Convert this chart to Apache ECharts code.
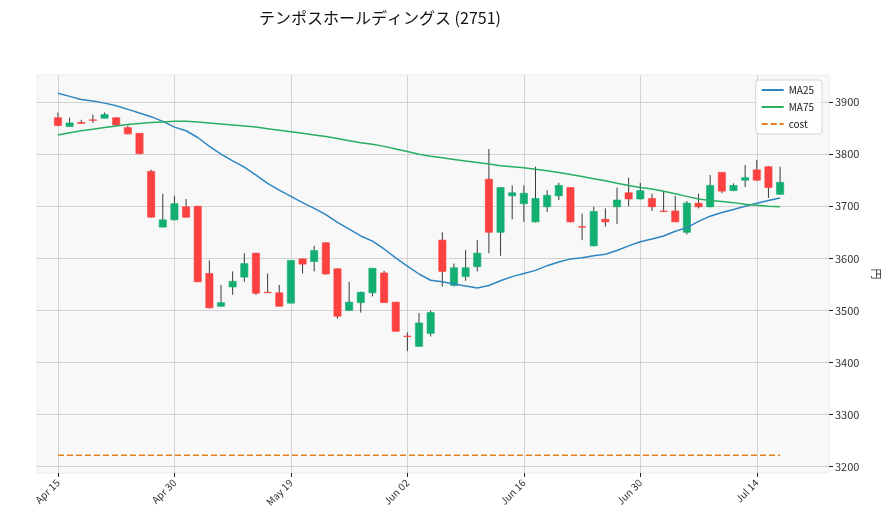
<!DOCTYPE html>
<html>
<head>
<meta charset="utf-8">
<script src="https://cdn.jsdelivr.net/npm/echarts@6/dist/echarts.min.js"></script>
<style>html,body{margin:0;padding:0;background:#fff}#chart{width:890px;height:526px}</style>
</head>
<body>
<div id="chart"></div>
<script>
const titleText = 'テンポスホールディングス (2751)';
const tickIndex = [0, 10, 20, 30, 40, 50, 60];
const tickLabels = ['Apr 15', 'Apr 30', 'May 19', 'Jun 02', 'Jun 16', 'Jun 30', 'Jul 14'];
const yTicks = [3200, 3300, 3400, 3500, 3600, 3700, 3800, 3900];

const openV  = [3870,3853,3861,3866,3869,3870,3851,3840,3767,3660,3674,3699,3700,3571,3508,3545,3564,3610,3535,3534,3514,3599,3594,3630,3580,3500,3515,3534,3572,3516,3451,3431,3456,3635,3548,3565,3584,3752,3650,3720,3705,3670,3699,3720,3736,3661,3624,3675,3699,3726,3714,3715,3691,3691,3650,3706,3699,3765,3730,3750,3770,3776,3723];
const closeV = [3855,3860,3859,3865,3876,3856,3839,3801,3679,3674,3705,3679,3555,3505,3515,3556,3590,3533,3534,3508,3596,3589,3615,3570,3489,3516,3535,3581,3515,3460,3450,3476,3496,3575,3582,3582,3610,3650,3736,3726,3725,3715,3721,3740,3670,3660,3690,3670,3712,3714,3730,3699,3690,3670,3706,3699,3740,3729,3740,3755,3750,3736,3746];
const lowV   = [3854,3853,3859,3860,3869,3855,3838,3800,3678,3660,3673,3678,3555,3504,3507,3530,3555,3530,3534,3508,3514,3571,3575,3569,3484,3500,3496,3527,3515,3459,3422,3431,3450,3546,3546,3557,3575,3610,3605,3675,3670,3669,3689,3712,3669,3635,3623,3661,3666,3700,3713,3691,3689,3670,3646,3696,3698,3725,3729,3737,3749,3716,3722];
const highV  = [3880,3870,3866,3876,3880,3871,3855,3840,3770,3724,3720,3714,3701,3596,3549,3575,3610,3610,3571,3549,3596,3600,3624,3631,3581,3555,3536,3581,3576,3516,3458,3495,3500,3650,3590,3616,3635,3810,3737,3740,3740,3776,3731,3745,3737,3686,3699,3696,3736,3755,3745,3724,3729,3720,3710,3724,3760,3765,3744,3779,3789,3777,3776];
const ma25 = [3917,3911,3905,3902,3898,3893,3886,3879,3872,3863,3852,3845,3832,3815,3800,3787,3775,3760,3744,3731,3719,3707,3696,3684,3669,3656,3643,3633,3618,3601,3585,3570,3558,3555,3551,3547,3543,3548,3557,3565,3571,3577,3586,3593,3599,3601,3605,3608,3615,3624,3632,3637,3643,3652,3659,3671,3681,3688,3694,3700,3706,3711,3716];
const ma75 = [3837,3841,3845,3848,3851,3854,3857,3859,3861,3862,3863,3863,3862,3860,3858,3856,3854,3852,3849,3846,3843,3840,3837,3834,3830,3826,3822,3819,3815,3810,3805,3800,3796,3793,3790,3787,3784,3781,3778,3776,3774,3771,3768,3765,3761,3757,3753,3749,3744,3740,3736,3733,3729,3724,3719,3714,3711,3709,3707,3704,3702,3700,3699];
const costValue = 3222;

const upColor = '#13ae72';
const downColor = '#fd4040';
const FONT = '"Noto Sans CJK JP", "Noto Sans", sans-serif';

const ohlc = openV.map((o, i) => [i, o, closeV[i], lowV[i], highV[i]]);
const ma25Data = ma25.map((v, i) => [i, v]);
const ma75Data = ma75.map((v, i) => [i, v]);
const costData = [[0, costValue], [openV.length - 1, costValue]];

function renderCandle(params, api) {
  const x = api.value(0), o = api.value(1), c = api.value(2), l = api.value(3), h = api.value(4);
  const pH = api.coord([x, h]);
  const pL = api.coord([x, l]);
  const pO = api.coord([x, o]);
  const pC = api.coord([x, c]);
  const w = api.size([0.62, 0])[0];
  const color = c >= o ? upColor : downColor;
  const top = Math.min(pO[1], pC[1]);
  const hgt = Math.max(Math.abs(pO[1] - pC[1]), 0.6);
  return {
    type: 'group',
    children: [
      { type: 'line', shape: { x1: pH[0], y1: pH[1], x2: pL[0], y2: pL[1] }, style: { stroke: '#3a3a3a', lineWidth: 1 } },
      { type: 'rect', shape: { x: pO[0] - w / 2, y: top, width: w, height: hgt }, style: { fill: color, stroke: color, lineWidth: 0.6 } }
    ]
  };
}

const chart = echarts.init(document.getElementById('chart'), null, { renderer: 'canvas' });
chart.setOption({
  backgroundColor: '#ffffff',
  animation: false,
  textStyle: { fontFamily: FONT },
  title: {
    text: titleText,
    left: 375, top: 5, textAlign: 'center',
    textStyle: { fontSize: 16, fontWeight: 'normal', color: '#111', fontFamily: FONT }
  },
  legend: {
    orient: 'vertical',
    right: 68, top: 80,
    padding: [5, 8, 5, 5],
    itemGap: 7,
    itemWidth: 22, itemHeight: 11,
    itemStyle: { opacity: 0 },
    backgroundColor: 'rgba(255,255,255,0.85)',
    borderColor: '#d6d6d6', borderWidth: 1, borderRadius: 3,
    textStyle: { fontSize: 10, color: '#222', fontFamily: FONT },
    data: ['MA25', 'MA75', 'cost']
  },
  grid: {
    left: 37, right: 61, top: 75, bottom: 53,
    show: true, backgroundColor: '#f8f8f8', borderColor: '#ececec', borderWidth: 1
  },
  xAxis: {
    type: 'value', min: -1.8, max: 66.2,
    axisLine: { show: false, onZero: false },
    axisTick: { show: true, customValues: tickIndex, length: 4, lineStyle: { color: '#222' } },
    axisLabel: {
      customValues: tickIndex, rotate: 45, fontSize: 10, color: '#333', margin: 8,
      formatter: (v) => tickLabels[tickIndex.indexOf(Math.round(v))] || ''
    },
    splitLine: { show: true, lineStyle: { color: '#d2d2d2', width: 1 } }
  },
  yAxis: {
    type: 'value', position: 'right', min: 3188, max: 3952,
    axisLine: { show: false, onZero: false },
    axisTick: { show: true, customValues: yTicks, length: 4, lineStyle: { color: '#222' } },
    axisLabel: { customValues: yTicks, fontSize: 11, color: '#333', margin: 6, formatter: (v) => String(v) },
    splitLine: { show: true, lineStyle: { color: '#d2d2d2', width: 1 } },
    name: '円', nameLocation: 'middle', nameGap: 42, nameRotate: -90,
    nameTextStyle: { fontSize: 11, color: '#333' }
  },
  series: [
    { name: 'candles', type: 'custom', renderItem: renderCandle, data: ohlc, encode: { x: 0, y: [1, 2, 3, 4] }, z: 3 },
    { name: 'MA25', type: 'line', data: ma25Data, symbol: 'none', lineStyle: { color: '#2e86c1', width: 1.5 }, itemStyle: { color: '#2e86c1' }, z: 4 },
    { name: 'MA75', type: 'line', data: ma75Data, symbol: 'none', lineStyle: { color: '#27ae60', width: 1.5 }, itemStyle: { color: '#27ae60' }, z: 4 },
    { name: 'cost', type: 'line', data: costData, symbol: 'none', lineStyle: { color: '#e67e22', width: 1.5, type: [6, 3] }, itemStyle: { color: '#e67e22' }, z: 4 }
  ]
});
</script>
</body>
</html>
